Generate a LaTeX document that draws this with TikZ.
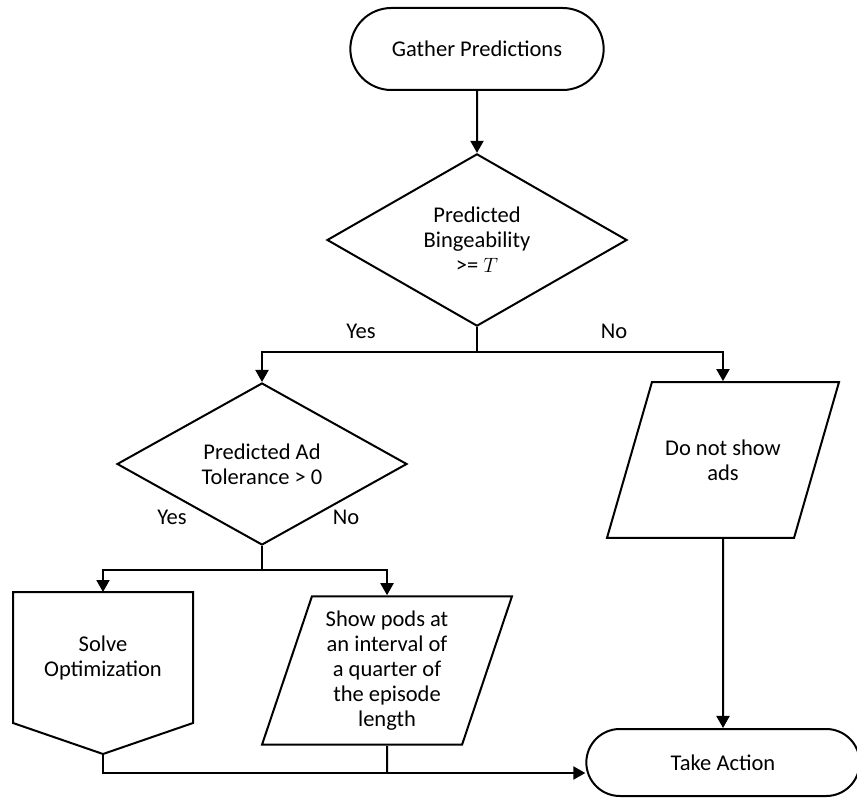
\documentclass[tikz,border=0pt]{standalone}
\usepackage{fontspec}
\setmainfont{Carlito}
\usetikzlibrary{shapes.geometric,shapes.misc,arrows.meta}

\begin{document}
\begin{tikzpicture}[->,>={Triangle[length=12pt,width=13pt]}, line width=2pt, x=1pt, y=-1pt,
  font=\fontsize{22.5}{25}\selectfont,
  term/.style={rounded rectangle, draw, align=center},
  decision/.style={diamond, draw, align=center, inner sep=0pt},
  io/.style={trapezium, draw, align=center, inner xsep=0pt, trapezium stretches body}]
\useasboundingbox (0,0) rectangle (857,799);
% Nodos
\node [term, minimum width=260pt, minimum height=82pt] (gather) at (477,49) {Gather Predictions};
\node [decision, minimum width=300pt, minimum height=170pt] (bing) at (477,240) {Predicted\\Bingeability\\>= $T$};
\node [decision, minimum width=290pt, minimum height=162pt] (adtol) at (262,464) {Predicted Ad\\Tolerance > 0};
\node [io, trapezium left angle=73.9, trapezium right angle=106.1, inner ysep=57.5pt, minimum width=232pt] (noads) at (723,460) {Do not show\\ads};
\node [io, trapezium left angle=71.4, trapezium right angle=108.6, inner ysep=14.5pt, minimum width=250pt] (pods) at (387,670.5) {Show pods at\\an interval of\\a quarter of\\the episode\\length};
\node [rectangle, align=center, minimum width=178pt, minimum height=129pt] (solve) at (103,657.5) {Solve\\Optimization};
\node [term, minimum width=280pt, minimum height=67pt] (take) at (723,762.5) {Take Action};
% Etiquetas
\node (yes1) at (361,331) {Yes};
\node (no1) at (614,331) {No};
\node (yes2) at (172,517) {Yes};
\node (no2) at (346,517) {No};
% Puntos
\coordinate (split1) at (477,352);
\coordinate (split2) at (262,570);
\coordinate (solvetip) at ([yshift=-31pt]solve.south);
\coordinate (join) at (103,773);
% Forma de Solve
\draw [-] (solve.north west) -- (solve.north east) -- (solve.south east) -- (solvetip) -- (solve.south west) -- cycle;
% Ejes
\draw (gather) -- (bing);
\draw [-] (bing) -- (split1);
\draw (split1) -| (adtol);
\draw (split1) -| (noads);
\draw [-] (adtol) -- (split2);
\draw (split2) -| (solve);
\draw (split2) -| (pods);
\draw (noads) -- (take);
\draw [-] (pods) -- (pods |- join);
\draw (solvetip) -- (join) -- (join -| take.west);
\end{tikzpicture}
\end{document}
